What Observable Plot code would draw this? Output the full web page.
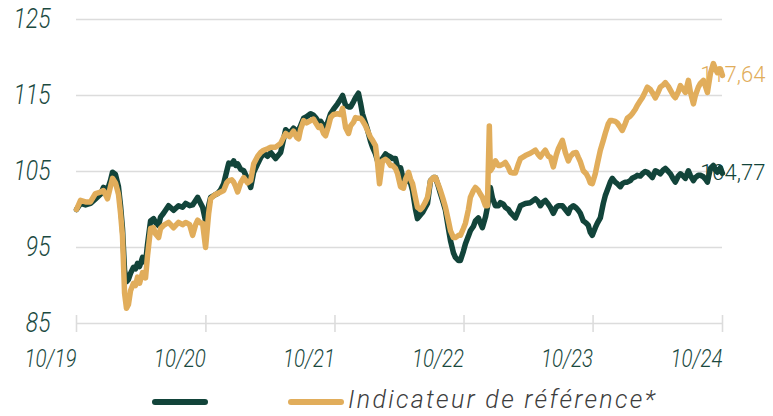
<!DOCTYPE html>
<html>
<head>
<meta charset="utf-8">
<script src="https://cdn.jsdelivr.net/npm/d3@7"></script>
<script src="https://cdn.jsdelivr.net/npm/@observablehq/plot@0.6"></script>
<style>
  html, body { margin: 0; padding: 0; background: #fff; }
  #chart { width: 773px; height: 416px; overflow: hidden; position: relative; }
  .legend { position: relative; height: 31px; font-family: Roboto, sans-serif; }
  .legend .sw { position: absolute; top: 14px; width: 56px; height: 6px; border-radius: 3px; }
  .legend .lab { position: absolute; top: 2px; font-size: 25px; line-height: 25px; letter-spacing: 2.3px; font-weight: 300; font-style: italic; color: #3d3d3d; white-space: nowrap; }
</style>
</head>
<body>
<div id="chart"></div>
<script>
// ---- data (decimal years) ----
const t = [2019.748,2019.779,2019.818,2019.856,2019.895,2019.934,2019.957,2019.988,2020.011,2020.027,2020.050,2020.073,2020.089,2020.104,2020.120,2020.135,2020.150,2020.166,2020.189,2020.205,2020.220,2020.236,2020.259,2020.282,2020.298,2020.321,2020.344,2020.359,2020.383,2020.398,2020.421,2020.460,2020.499,2020.537,2020.568,2020.592,2020.623,2020.646,2020.669,2020.685,2020.708,2020.723,2020.746,2020.770,2020.785,2020.816,2020.839,2020.863,2020.886,2020.909,2020.925,2020.948,2020.963,2020.979,2020.994,2021.017,2021.041,2021.071,2021.095,2021.118,2021.149,2021.172,2021.195,2021.226,2021.250,2021.288,2021.327,2021.350,2021.366,2021.396,2021.427,2021.451,2021.466,2021.481,2021.505,2021.528,2021.559,2021.582,2021.598,2021.621,2021.637,2021.660,2021.675,2021.698,2021.714,2021.737,2021.768,2021.791,2021.807,2021.830,2021.853,2021.869,2021.892,2021.907,2021.930,2021.946,2021.961,2021.985,2022.000,2022.023,2022.039,2022.062,2022.078,2022.093,2022.116,2022.140,2022.155,2022.178,2022.194,2022.217,2022.233,2022.256,2022.279,2022.295,2022.318,2022.333,2022.349,2022.372,2022.387,2022.411,2022.426,2022.449,2022.465,2022.488,2022.511,2022.527,2022.550,2022.565,2022.589,2022.604,2022.627,2022.643,2022.666,2022.681,2022.705,2022.720,2022.743,2022.759,2022.782,2022.797,2022.821,2022.836,2022.859,2022.875,2022.890,2022.914,2022.929,2022.944,2022.952,2022.968,2022.991,2023.014,2023.030,2023.053,2023.068,2023.092,2023.107,2023.130,2023.146,2023.169,2023.185,2023.223,2023.262,2023.301,2023.324,2023.339,2023.362,2023.378,2023.401,2023.417,2023.440,2023.463,2023.479,2023.510,2023.533,2023.556,2023.572,2023.595,2023.618,2023.633,2023.649,2023.672,2023.695,2023.711,2023.726,2023.742,2023.765,2023.781,2023.804,2023.827,2023.842,2023.866,2023.881,2023.897,2023.920,2023.935,2023.959,2023.974,2023.997,2024.013,2024.036,2024.051,2024.075,2024.090,2024.113,2024.129,2024.152,2024.168,2024.191,2024.206,2024.230,2024.253,2024.268,2024.291,2024.307,2024.330,2024.346,2024.369,2024.384,2024.407,2024.423,2024.446,2024.462,2024.485,2024.500,2024.524,2024.539,2024.562,2024.578,2024.601,2024.617,2024.632,2024.655,2024.678,2024.694,2024.709,2024.732,2024.748];

const fund = [100.0,100.8,100.6,100.8,101.4,102.0,102.9,102.6,103.8,104.9,104.6,103.0,100.5,97.5,92.0,90.5,90.8,91.6,92.4,92.2,92.9,92.5,93.7,93.0,95.5,98.5,98.8,98.3,97.9,99.0,99.5,100.5,99.9,100.5,100.3,100.8,100.5,100.6,101.2,101.6,100.8,100.3,98.5,100.5,101.6,101.9,102.1,102.6,103.4,105.0,106.1,106.0,106.4,105.8,106.0,105.3,105.1,104.0,102.9,104.9,106.0,106.8,107.4,107.0,107.5,106.7,107.5,109.3,110.5,110.0,110.7,110.3,110.5,111.0,112.0,112.2,112.6,112.4,112.1,111.5,111.6,111.0,110.7,111.8,112.6,113.2,113.9,114.5,115.0,113.7,113.5,113.5,114.2,114.7,115.3,114.0,112.6,111.3,110.5,109.0,108.2,107.3,106.4,105.5,106.7,107.3,107.1,106.9,106.7,106.7,105.5,105.5,103.8,103.6,104.2,103.5,102.5,100.0,98.8,99.3,99.6,100.3,100.8,103.8,104.2,104.2,103.0,102.1,100.8,99.9,97.5,95.9,94.3,93.7,93.3,93.3,94.5,95.5,96.5,97.2,97.8,98.5,98.9,98.2,97.6,99.0,100.3,102.0,102.9,101.5,100.5,100.5,100.9,100.7,100.3,100.0,99.6,99.2,98.9,99.8,100.5,100.8,100.9,101.4,101.0,100.5,101.0,101.2,100.7,100.3,99.5,100.3,100.5,100.5,100.0,99.5,100.2,100.5,100.2,99.9,99.5,98.5,98.2,97.9,97.0,96.6,97.6,98.2,98.9,100.8,101.8,102.9,103.6,104.1,103.6,103.4,103.0,103.4,103.6,103.6,103.8,104.1,104.3,104.5,104.4,104.7,105.0,104.9,104.5,104.2,105.1,104.9,104.7,105.2,105.4,105.0,104.7,104.0,103.6,104.4,104.7,104.4,104.1,105.1,104.5,103.8,104.2,104.5,104.5,104.3,104.0,103.6,105.4,105.8,105.2,104.9,105.5,104.77];

const bench = [100.0,101.2,101.0,101.0,102.1,102.3,102.5,101.4,103.0,104.1,103.5,102.0,99.5,96.5,89.0,87.0,87.5,89.3,90.3,90.0,91.1,90.3,91.7,91.0,94.0,97.5,97.6,96.8,96.3,97.5,97.9,98.3,97.6,98.3,98.0,98.3,98.0,96.6,98.0,98.6,98.2,98.2,95.0,99.5,101.4,101.9,102.1,102.3,102.5,103.5,103.8,103.9,103.6,103.0,102.3,103.5,104.2,103.5,103.8,106.0,107.0,107.5,107.8,108.0,108.2,108.2,108.7,109.5,110.0,109.6,110.3,109.5,109.3,110.5,111.7,111.4,111.7,111.9,111.4,110.8,111.0,110.0,109.7,111.0,112.1,112.5,112.6,112.5,113.3,110.8,110.0,111.0,111.5,112.1,112.0,112.0,111.7,111.0,110.4,109.5,109.1,108.4,106.1,103.4,106.4,106.6,106.4,105.8,105.8,105.4,104.7,103.0,102.8,104.0,104.9,104.0,103.4,101.5,100.3,100.0,100.3,101.0,101.6,103.8,104.2,104.2,103.2,102.5,101.2,100.3,98.5,97.2,96.3,96.3,96.6,96.6,97.5,98.2,100.0,101.6,102.5,102.9,102.5,102.0,101.6,100.5,100.5,111.0,105.1,105.5,106.4,105.8,105.8,106.0,106.2,105.5,104.9,104.8,104.8,106.0,106.7,107.1,107.4,107.8,107.2,106.9,107.5,107.8,107.0,106.9,105.6,107.2,108.0,109.1,107.5,106.4,107.0,107.4,107.5,106.9,106.3,105.1,104.7,104.2,103.5,103.4,104.7,106.0,107.8,109.1,110.0,111.3,111.7,111.7,111.6,111.4,110.8,110.4,111.3,112.0,112.3,112.6,113.2,113.7,114.3,114.7,115.5,116.1,115.8,115.4,114.7,115.5,116.1,116.4,116.7,116.2,115.7,115.0,114.7,115.5,116.3,115.8,115.4,117.0,115.5,113.9,115.0,116.1,116.6,117.0,116.2,115.4,117.9,119.2,118.5,118.0,118.5,117.64];

const seriesNames = ["Fonds", "Indicateur de référence*"];
const tickYears = [2019, 2020, 2021, 2022, 2023, 2024];
const tickLabels = ["10/19", "10/20", "10/21", "10/22", "10/23", "10/24"];
const yTicks = [85, 95, 105, 115, 125];

const GREEN = "#12443a";
const GOLD = "#e1ad5b";
const TICKCOL = "#1b4a3f";

function fromDecimalYear(v) {
  const y = Math.floor(v);
  const s = Date.UTC(y, 0, 1), e = Date.UTC(y + 1, 0, 1);
  return new Date(s + (v - y) * (e - s));
}

const rows = [];
t.forEach((v, i) => {
  rows.push({date: fromDecimalYear(v), value: fund[i], series: seriesNames[0]});
  rows.push({date: fromDecimalYear(v), value: bench[i], series: seriesNames[1]});
});
const fundRows = rows.filter(d => d.series === seriesNames[0]);
const benchRows = rows.filter(d => d.series === seriesNames[1]);
const lastRows = [fundRows[fundRows.length - 1], benchRows[benchRows.length - 1]];
const tickDates = tickYears.map(y => new Date(Date.UTC(y, 9, 1)));
const fmt = v => v.toFixed(2).replace(".", ",");

const svg = Plot.plot({
  width: 773,
  height: 385,
  marginLeft: 76,
  marginRight: 51,
  marginTop: 19,
  marginBottom: 62,
  style: {fontFamily: "Roboto, sans-serif", background: "#fff", overflow: "visible"},
  x: {type: "utc", domain: [tickDates[0], tickDates[tickDates.length - 1]]},
  y: {domain: [85, 125]},
  marks: [
    Plot.gridY(yTicks, {stroke: "#dcdcdc", strokeOpacity: 1, strokeWidth: 1.6}),
    Plot.axisY(yTicks, {tickSize: 0, tickPadding: 26, fontSize: 28, fontStyle: "italic", fontWeight: 300, fill: TICKCOL, label: null}),
    Plot.axisX(tickDates, {tickSize: 17, dy: -8, stroke: "#dcdcdc", strokeWidth: 1.6, tickFormat: () => "", label: null}),
    Plot.axisX(tickDates, {tickSize: 0, tickPadding: 26, textAnchor: "end", fontSize: 25, fontStyle: "italic", fontWeight: 300, fill: TICKCOL, tickFormat: (d, i) => tickLabels[i], label: null}),
    Plot.text(lastRows, {x: "date", y: "value", text: d => fmt(d.value), textAnchor: "end", dx: 43, fontSize: 22, fontWeight: 300, fill: (d) => d.series === seriesNames[0] ? GREEN : GOLD}),
    Plot.lineY(fundRows, {x: "date", y: "value", stroke: GREEN, strokeWidth: 5.5, strokeLinejoin: "round", strokeLinecap: "round"}),
    Plot.lineY(benchRows, {x: "date", y: "value", stroke: GOLD, strokeWidth: 5.5, strokeLinejoin: "round", strokeLinecap: "round"})
  ]
});

// narrow the tick label glyphs horizontally (condensed look of the original)
svg.querySelectorAll('g[aria-label="y-axis tick label"] text, g[aria-label="x-axis tick label"] text').forEach(el => {
  const tr = el.getAttribute("transform");
  if (tr && tr.includes("translate")) {
    el.setAttribute("transform", tr + " scale(0.82,1)");
  } else {
    const x = +(el.getAttribute("x") || 0);
    el.setAttribute("transform", `translate(${x},0) scale(0.82,1) translate(${-x},0)`);
  }
});

const chart = document.getElementById("chart");
chart.appendChild(svg);

const legend = document.createElement("div");
legend.className = "legend";
legend.innerHTML = `
  <div class="sw" style="left:152px;background:${GREEN}"></div>
  <div class="sw" style="left:288px;background:${GOLD}"></div>
  <div class="lab" style="left:348px">${seriesNames[1]}</div>`;
chart.appendChild(legend);
</script>
</body>
</html>
